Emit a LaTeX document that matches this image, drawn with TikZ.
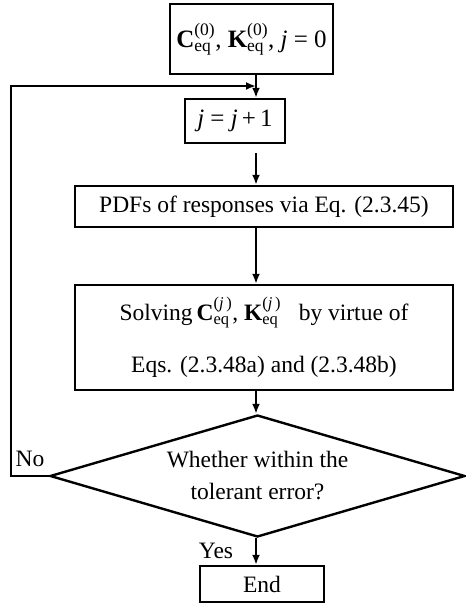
\documentclass[tikz,border=0pt]{standalone}
\usepackage{amsmath}
\usepackage{fontspec}
\setmainfont{Liberation Serif}
\usepackage{tikz}
\usetikzlibrary{shapes.geometric,arrows.meta}
\newcommand{\eqmat}[2]{$\textbf{#1}^{\text{(#2)}}_{\text{eq}}$}
\newcommand{\eqmatj}[1]{$\textbf{#1}^{\text{(\textit{j}\,)}}_{\text{eq}}$}

\begin{document}
\begin{tikzpicture}[x=1pt,y=-1pt,
        line width=2.4pt,
        flow/.style={-{Latex[length=10pt,width=8pt]}},
        box/.style={rectangle,draw,inner sep=0pt,align=center,
                    font=\fontsize{23.5}{28}\selectfont}]
      \useasboundingbox (0,0) rectangle (466,603);
      \coordinate (spine) at (256,0);
      \node[box,minimum width=163pt,minimum height=70pt,
            font=\fontsize{25}{30}\selectfont] (init)  at (251.5,39)
          {\eqmat{C}{0}, \eqmat{K}{0}, \textit{j}~=~0};
      \node[box,minimum width=100pt,minimum height=44pt,
            font=\fontsize{25}{30}\selectfont] (incr)  at (235,121)
          {\textit{j}~=~\textit{j}\,+\,1};
      \node[box,minimum width=378pt,minimum height=41pt] (pdf)   at (264,206.5)
          {PDFs of responses via Eq. (2.3.45)};
      \node[box,minimum width=378pt,minimum height=105pt] (solve) at (264,337.5)
          {Solving\,\eqmatj{C}, \eqmatj{K}~~ by virtue of\\[24pt]
           Eqs. (2.3.48a) and (2.3.48b)};
      \node[box,diamond,aspect=3.4,minimum width=415pt,minimum height=122pt,
            font=\fontsize{23.5}{32}\selectfont] (test) at (257.5,476)
          {Whether within the\\tolerant error?};
      \node[box,minimum width=124pt,minimum height=36pt] (end)   at (262,584)
          {End};
      \coordinate (join) at (256,86);
      \draw[flow] (init.south -| spine) -- (incr.north -| spine);
      \draw[flow] ([yshift=-9pt]incr.south -| spine) -- (pdf.north -| spine);
      \draw[flow] (pdf.south -| spine) -- (solve.north -| spine);
      \draw[flow] (solve.south -| spine) -- (test.north -| spine);
      \draw[flow] (test.south -| spine) -- (end.north -| spine);
      \draw[flow] (test.west) -- ++(-38,0) |- (join);
      \node[font=\fontsize{23.5}{28}\selectfont] (no)  at (30,459)  {No};
      \node[font=\fontsize{23.5}{28}\selectfont] (yes) at (216,551) {Yes};
    \end{tikzpicture}
\end{document}
